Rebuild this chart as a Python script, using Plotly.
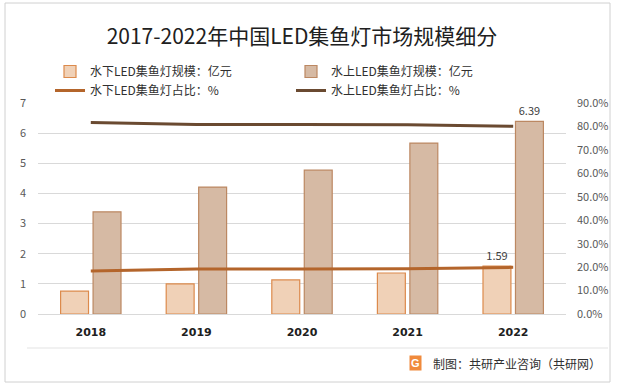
import plotly.graph_objects as go

years = ["2018", "2019", "2020", "2021", "2022"]
under_scale = [0.76, 1.00, 1.13, 1.36, 1.59]
above_scale = [3.39, 4.21, 4.77, 5.67, 6.39]
under_share = [0.183, 0.192, 0.192, 0.193, 0.199]
above_share = [0.817, 0.808, 0.808, 0.807, 0.801]
left_ticks = [0, 1, 2, 3, 4, 5, 6, 7]
right_ticks = [0, 0.1, 0.2, 0.3, 0.4, 0.5, 0.6, 0.7, 0.8, 0.9]

W, H = 617, 387
L, R, T, B = 38, 51, 103, 73
pw, ph = W - L - R, H - T - B


def px(x):
    return (x - L) / pw


def py(y):
    return (H - B - y) / ph


fig = go.Figure()
fig.add_trace(go.Bar(
    x=years, y=under_scale, name="水下LED集鱼灯规模：亿元",
    marker=dict(color="#F0D1B7", line=dict(color="#DC8A4C", width=1.2)),
    text=["", "", "", "", f"{under_scale[-1]:.2f}"], textposition="outside",
    textfont=dict(size=11, color="#404040"), cliponaxis=False, yaxis="y",
))
fig.add_trace(go.Bar(
    x=years, y=above_scale, name="水上LED集鱼灯规模：亿元",
    marker=dict(color="#D6BAA4", line=dict(color="#BC8862", width=1.2)),
    text=["", "", "", "", f"{above_scale[-1]:.2f}"], textposition="outside",
    textfont=dict(size=11, color="#404040"), cliponaxis=False, yaxis="y",
))
fig.add_trace(go.Scatter(
    x=years, y=under_share, name="水下LED集鱼灯占比：%", mode="lines",
    line=dict(color="#B4652B", width=3), yaxis="y2",
))
fig.add_trace(go.Scatter(
    x=years, y=above_share, name="水上LED集鱼灯占比：%", mode="lines",
    line=dict(color="#6A4A31", width=3), yaxis="y2",
))

font_family = "Microsoft YaHei, Noto Sans CJK SC, sans-serif"

fig.update_layout(
    width=W, height=H,
    margin=dict(l=L, r=R, t=T, b=B, autoexpand=False),
    paper_bgcolor="white", plot_bgcolor="white",
    font=dict(family=font_family, color="#404040", size=11),
    barmode="group", bargap=0.385, bargroupgap=0.14,
    showlegend=True,
    legend=dict(
        orientation="h", x=px(50), y=py(57), xanchor="left", yanchor="top",
        font=dict(size=12, color="#303030"), entrywidth=196,
        tracegroupgap=0, itemwidth=30, bgcolor="rgba(0,0,0,0)",
    ),
    title=dict(
        text="2017-2022年中国LED集鱼灯市场规模细分",
        x=0.5, xref="paper", xanchor="center",
        y=1 - 37 / H, yanchor="middle", yref="container",
        font=dict(size=21, color="#202020", family=font_family),
    ),
    xaxis=dict(
        type="category", showgrid=False, showline=True, linecolor="#D9D9D9",
        linewidth=1, ticks="", tickfont=dict(size=11, color="#202020", family="Arial Black, DejaVu Sans, sans-serif", weight="bold"),
        ticklabelstandoff=8,
    ),
    yaxis=dict(
        range=[0, 7], tickvals=left_ticks, showgrid=True, gridcolor="#D9D9D9",
        gridwidth=1, zeroline=False, showline=False, ticks="",
        tickfont=dict(size=11, color="#595959"), ticklabelstandoff=11,
    ),
    yaxis2=dict(
        range=[0, 0.9], tickvals=right_ticks, tickformat=".1%", overlaying="y",
        side="right", showgrid=False, zeroline=False, showline=False, ticks="",
        tickfont=dict(size=11, color="#595959"), ticklabelstandoff=10,
    ),
)

# outer frame and footer separator
fig.add_shape(type="rect", xref="paper", yref="paper",
              x0=px(5), x1=px(610), y0=py(382), y1=py(3),
              line=dict(color="#D0D0D0", width=1), layer="below")
fig.add_shape(type="line", xref="paper", yref="paper",
              x0=px(27), x1=px(608), y0=py(348), y1=py(348),
              line=dict(color="#E3E3E3", width=1))

# footer
fig.add_annotation(xref="paper", yref="paper", x=px(415), y=py(363),
                   text="<b>G</b>", showarrow=False,
                   font=dict(size=11, color="white", family="Arial"),
                   bgcolor="#F08A3C", borderpad=1, xanchor="center", yanchor="middle")
fig.add_annotation(xref="paper", yref="paper", x=px(431), y=py(363),
                   text="制图：共研产业咨询（共研网）", showarrow=False,
                   font=dict(size=12, color="#303030"),
                   xanchor="left", yanchor="middle")

fig.write_html("out.html")
